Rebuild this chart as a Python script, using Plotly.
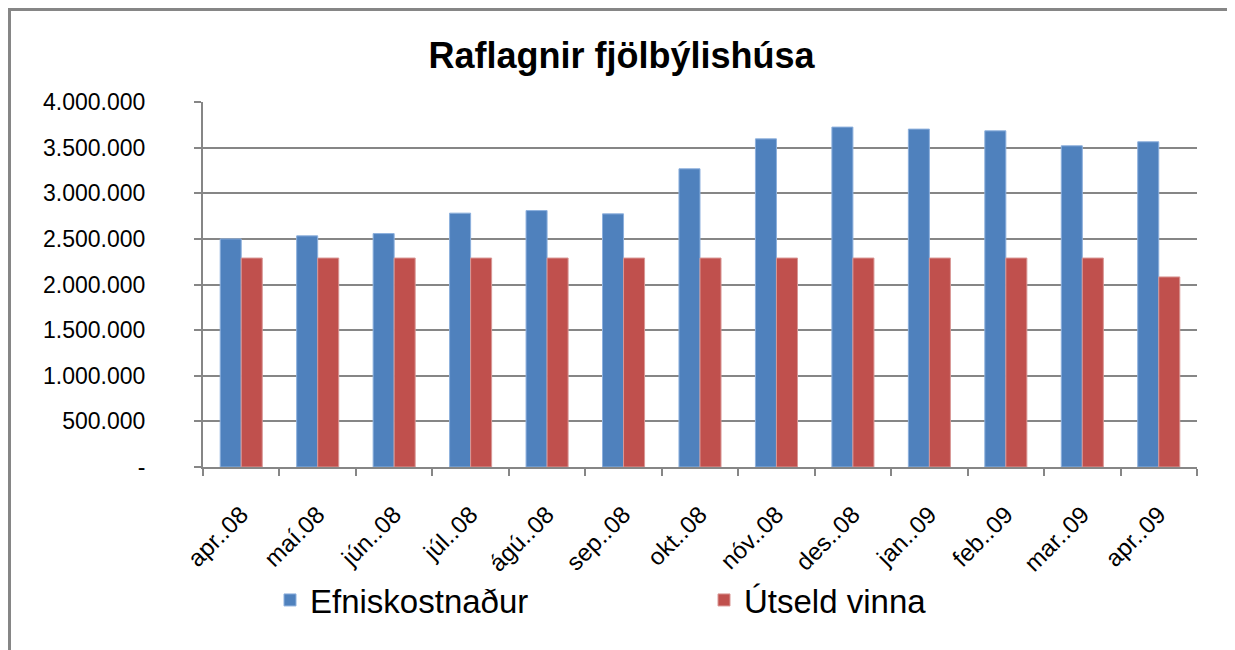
import plotly.graph_objects as go

categories = ["apr..08", "maí.08", "jún..08", "júl..08", "ágú..08", "sep..08", "okt..08",
              "nóv..08", "des..08", "jan..09", "feb..09", "mar..09", "apr..09"]
efniskostnadur = [2500000, 2533000, 2558000, 2782000, 2810000, 2774000, 3268000,
                  3596000, 3725000, 3703000, 3684000, 3520000, 3564000]
utseld_vinna = [2290000, 2290000, 2290000, 2290000, 2290000, 2290000, 2290000,
                2290000, 2290000, 2290000, 2290000, 2290000, 2083000]
tick_vals = [0, 500000, 1000000, 1500000, 2000000, 2500000, 3000000, 3500000, 4000000]
tick_text = ["-", "500.000", "1.000.000", "1.500.000", "2.000.000", "2.500.000",
             "3.000.000", "3.500.000", "4.000.000"]

# page body has 8px margin; figure coordinates = page - 8
W, H = 1227, 642
L, R, T, B = 195, 38, 94, 183
pw, ph = W - L - R, H - T - B

fig = go.Figure()
fig.add_trace(go.Bar(x=categories, y=efniskostnadur, name="Efniskostnaður",
                     marker=dict(color="#4F81BD", line=dict(color="#8DB0DD", width=1))))
fig.add_trace(go.Bar(x=categories, y=utseld_vinna, name="Útseld vinna",
                     marker=dict(color="#C0504D", line=dict(color="#D99795", width=1))))

font_fam = "Liberation Sans, Arial, sans-serif"

fig.update_layout(
    width=W, height=H,
    margin=dict(l=L, r=R, t=T, b=B),
    paper_bgcolor="white", plot_bgcolor="white",
    barmode="group", bargap=0.45, bargroupgap=0,
    title=dict(text="<b>Raflagnir fjölbýlishúsa</b>", x=0.5, xanchor="center",
               y=1 - 47 / H, yanchor="middle",
               font=dict(family=font_fam, size=36, color="black")),
    font=dict(family=font_fam, color="black"),
    showlegend=True,
    legend=dict(orientation="h", x=(262 - L) / pw, xanchor="left",
                y=-(592 - (T + ph)) / ph, yanchor="middle",
                font=dict(family=font_fam, size=33, color="black"),
                itemwidth=30, entrywidth=389, traceorder="normal"),
    xaxis=dict(showline=True, linecolor="#868686", linewidth=2,
               ticks="outside", tickson="boundaries", ticklen=7, tickcolor="#868686",
               tickwidth=2, tickangle=-45, ticklabelstandoff=22,
               tickfont=dict(family=font_fam, size=24, color="black"),
               showgrid=False),
    yaxis=dict(range=[0, 4000000], tickvals=tick_vals, ticktext=tick_text,
               showline=True, linecolor="#868686", linewidth=2,
               ticks="outside", ticklen=7, tickcolor="#868686", tickwidth=2,
               ticklabelstandoff=44,
               showgrid=True, gridcolor="#868686", gridwidth=2,
               zeroline=False,
               tickfont=dict(family=font_fam, size=23, color="black")),
)

# outer chart border
x0 = (1.5 - L) / pw
x1 = (1224 - L) / pw
y1 = (T + ph - 1.5) / ph
y0 = -(700 - (T + ph)) / ph
fig.add_shape(type="rect", xref="paper", yref="paper", x0=x0, x1=x1, y0=y0, y1=y1,
              line=dict(color="#868686", width=3), fillcolor="rgba(0,0,0,0)", layer="below")

fig.write_html("out.html")
